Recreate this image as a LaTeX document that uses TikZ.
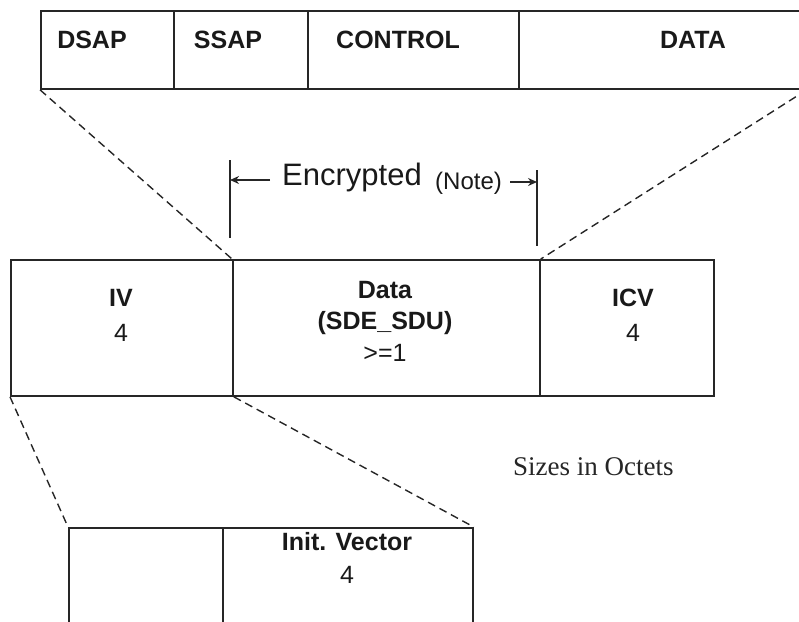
\documentclass[tikz,border=0pt]{standalone}
\usepackage{fontspec}
\setmainfont{Liberation Sans}
\newfontfamily\serifface{Liberation Serif}
\usetikzlibrary{arrows.meta}
\begin{document}
\begin{tikzpicture}[x=1pt,y=-1pt,
  cell/.style={draw=black!85, line width=1.8pt, anchor=north west, inner sep=0pt},
  lbl/.style={font=\fontsize{25}{30}\selectfont\bfseries, text=black!90, inner sep=0pt},
  num/.style={font=\fontsize{25}{30}\selectfont, text=black!90, inner sep=0pt},
  guide/.style={draw=black!85, line width=1.4pt, dash pattern=on 8pt off 5pt},
  bar/.style={draw=black!85, line width=1.8pt},
  encarrow/.style={draw=black!85, line width=1.4pt, -{Stealth[length=9pt,width=8pt]}}
]
\useasboundingbox (0,0) rectangle (799,621);
\clip (0,0) rectangle (799,621);

% top frame
\node[cell, minimum width=133pt, minimum height=78pt] (dsap) at (40,10) {};
\node[cell, minimum width=134pt, minimum height=78pt] (ssap) at (173,10) {};
\node[cell, minimum width=211pt, minimum height=78pt] (control) at (307,10) {};
\node[cell, minimum width=287pt, minimum height=78pt] (data) at (518,10) {};
\node[lbl] (tdsap) at (92,40) {DSAP};
\node[lbl] (tssap) at (228,40) {SSAP};
\node[lbl] (tcontrol) at (398,40) {CONTROL};
\node[lbl] (tdata) at (693,40) {DATA};

% middle frame
\node[cell, minimum width=222pt, minimum height=136pt] (iv) at (10,259) {};
\node[cell, minimum width=307pt, minimum height=136pt] (sde) at (232,259) {};
\node[cell, minimum width=174pt, minimum height=136pt] (icv) at (539,259) {};
\node[lbl] (tiv) at (121,298) {IV};
\node[num] (niv) at (121,333) {4};
\node[lbl] (tsde) at (385,290) {Data};
\node[lbl] (tsde2) at (385,323) {(SDE\_SDU)};
\node[num] (nsde) at (385,353) {>=1};
\node[lbl] (ticv) at (633,298) {ICV};
\node[num] (nicv) at (633,333) {4};

% bottom frame
\node[cell, minimum width=154pt, minimum height=130pt] (pad) at (68,527) {};
\node[cell, minimum width=250pt, minimum height=130pt] (initv) at (222,527) {};
\node[lbl] (tinit) at (347,542) {Init. Vector};
\node[num] (ninit) at (347,575) {4};

% dashed expansion lines
\draw[guide] (dsap.south west) -- (sde.north west);
\draw[guide] (data.south east) -- (sde.north east);
\draw[guide] (iv.south west) -- (pad.north west);
\draw[guide] (iv.south east) -- (initv.north east);

% encrypted span
\coordinate (lt) at (230,160);
\coordinate (lb) at (230,238);
\coordinate (rt) at (537,170);
\coordinate (rb) at (537,246);
\draw[bar] (lt) -- (lb);
\draw[bar] (rt) -- (rb);
\node[font=\fontsize{31}{35}\selectfont, text=black!90, inner sep=0pt, anchor=base west] (enc) at (282,185) {Encrypted};
\node[font=\fontsize{24}{28}\selectfont, text=black!90, inner sep=0pt, anchor=base west] (encnote) at (435,189) {(Note)};
\coordinate (la) at (230,180);
\coordinate (ra) at (537,182);
\draw[encarrow] (enc.west |- la) ++(-12,0) coordinate (ls) (ls) -- (la);
\draw[encarrow] (encnote.east |- ra) ++(8,0) coordinate (rs) (rs) -- (ra);

% legend
\node[font=\serifface\fontsize{27}{31}\selectfont, text=black!85, inner sep=0pt, anchor=west] (sizes) at (513,467) {Sizes in Octets};
\end{tikzpicture}
\end{document}
